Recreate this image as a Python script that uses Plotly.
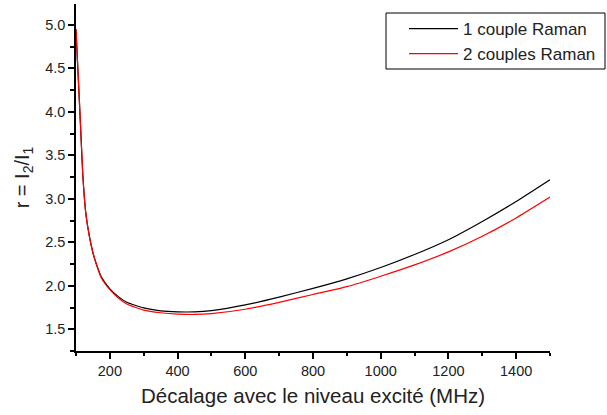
import plotly.graph_objects as go

x_vals = [100, 105, 110, 115, 120, 125, 130, 140, 150, 160, 175, 200, 225, 250, 300, 350,
          400, 450, 500, 600, 700, 800, 900, 1000, 1100, 1200, 1300, 1400, 1500]
r_one = [4.95, 4.53, 4.12, 3.70, 3.28, 3.00, 2.80, 2.56, 2.38, 2.25, 2.10, 1.965, 1.875, 1.81,
         1.745, 1.712, 1.70, 1.70, 1.715, 1.78, 1.87, 1.97, 2.08, 2.21, 2.36, 2.53, 2.74, 2.97, 3.22]
r_two = [4.95, 4.53, 4.12, 3.70, 3.28, 3.00, 2.80, 2.56, 2.38, 2.25, 2.09, 1.955, 1.86, 1.79,
         1.72, 1.69, 1.675, 1.67, 1.68, 1.73, 1.81, 1.90, 1.99, 2.11, 2.24, 2.39, 2.57, 2.78, 3.02]
names = ["1 couple Raman", "2 couples Raman"]

FONT = "Liberation Sans, Arial, sans-serif"

fig = go.Figure()
fig.add_trace(go.Scatter(x=x_vals, y=r_one, mode="lines", name=names[0],
                         line=dict(color="#000000", width=1.2, shape="spline", smoothing=0.5)))
fig.add_trace(go.Scatter(x=x_vals, y=r_two, mode="lines", name=names[1],
                         line=dict(color="#ff0000", width=1.2, shape="spline", smoothing=0.5)))

axis_common = dict(showline=True, linecolor="#000000", linewidth=1.5, ticks="outside",
                   tickcolor="#000000", ticklen=6, tickwidth=1.5, showgrid=False, zeroline=False,
                   tickfont=dict(family=FONT, size=14.5, color="#222222"), mirror=False)

fig.update_xaxes(range=[100, 1500], tick0=0, dtick=200,
                 minor=dict(dtick=100, ticklen=3, tickcolor="#000000", tickwidth=1.5, ticks="outside", showgrid=False),
                 title=dict(text="Décalage avec le niveau excité (MHz)",
                            font=dict(family=FONT, size=20.5, color="#222222"), standoff=10),
                 **axis_common)
fig.update_yaxes(range=[1.25, 5.24], tick0=0, dtick=0.5, tickformat=".1f",
                 minor=dict(dtick=0.25, ticklen=4, tickcolor="#000000", tickwidth=1.5, ticks="outside", showgrid=False),
                 title=dict(text="r = I<sub>2</sub>/I<sub>1</sub>",
                            font=dict(family=FONT, size=20, color="#222222"), standoff=10),
                 **axis_common)

# legend frame (plot area: x 76..550 px, y 4..351 px)
fig.add_shape(type="rect", xref="paper", yref="paper",
              x0=(386 - 76) / 474, x1=(605 - 76) / 474,
              y0=(351 - 69) / 347, y1=(351 - 13) / 347,
              line=dict(color="#000000", width=1), fillcolor="rgba(0,0,0,0)", layer="above")

fig.update_layout(
    width=607, height=415,
    margin=dict(l=76, r=57, t=4, b=64, autoexpand=False),
    plot_bgcolor="#ffffff", paper_bgcolor="#ffffff",
    showlegend=True,
    legend=dict(x=(404 - 76) / 474, y=(351 - 11) / 347, xanchor="left", yanchor="top",
                borderwidth=0, bgcolor="rgba(0,0,0,0)",
                font=dict(family=FONT, size=17, color="#222222"),
                tracegroupgap=0, itemwidth=49),
)

fig.write_html("out.html", config={"displayModeBar": False},
               post_script="document.body.style.margin='0';")
